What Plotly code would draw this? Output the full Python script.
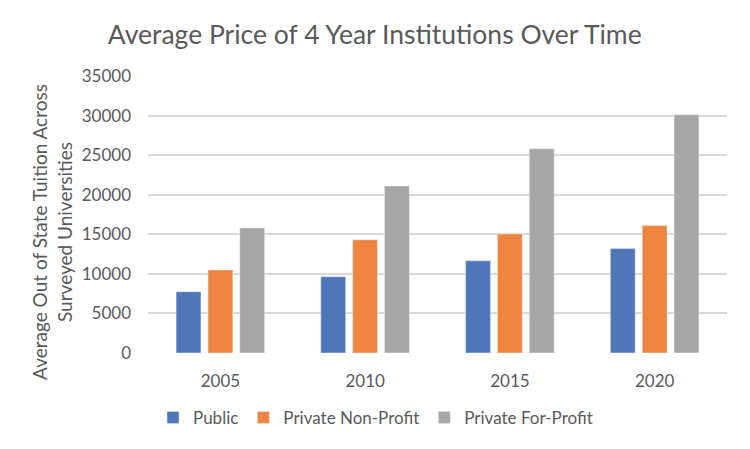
import plotly.graph_objects as go

years = ["2005", "2010", "2015", "2020"]
public = [7750, 9650, 11650, 13200]
private_nonprofit = [10500, 14300, 15050, 16100]
private_forprofit = [15800, 21100, 25800, 30100]
y_ticks = [0, 5000, 10000, 15000, 20000, 25000, 30000, 35000]
y_tick_labels = [str(v) for v in y_ticks]

font_family = "Lato, 'Open Sans', sans-serif"
text_color = "#595959"

fig = go.Figure()
fig.add_trace(go.Bar(name="Public", x=years, y=public, marker_color="#4f76b9"))
fig.add_trace(go.Bar(name="Private Non-Profit", x=years, y=private_nonprofit, marker_color="#ef8441"))
fig.add_trace(go.Bar(name="Private For-Profit", x=years, y=private_forprofit, marker_color="#a6a6a6"))

fig.update_layout(
    width=750, height=449,
    paper_bgcolor="white", plot_bgcolor="white",
    margin=dict(l=140, r=31, t=68, b=104, autoexpand=False),
    barmode="group", bargap=0.34, bargroupgap=0.22,
    font=dict(family=font_family, color=text_color, size=17),
    title=dict(text="Average Price of 4 Year Institutions Over Time",
               x=0.489, xanchor="center", xref="container",
               y=0.94, yanchor="middle", yref="container",
               font=dict(size=26.5, color=text_color, family=font_family)),
    showlegend=True,
    legend=dict(orientation="h", x=0.49, xanchor="center", xref="container",
                y=0.087, yanchor="middle", yref="container",
                font=dict(size=17, color=text_color),
                traceorder="normal"),
    xaxis=dict(showgrid=False, showline=False, ticks="", automargin=False,
               ticklabelstandoff=16,
               tickfont=dict(size=17, color=text_color)),
    yaxis=dict(range=[0, 35000], tickvals=y_ticks, ticktext=y_tick_labels,
               showgrid=True, gridcolor="#d9d9d9", automargin=False,
               gridwidth=2, zeroline=False, showline=False, ticks="",
               ticklabelstandoff=16,
               tickfont=dict(size=17, color=text_color)),
    annotations=[dict(text="Average Out of State Tuition Across<br>Surveyed Universities",
                      xref="paper", yref="paper", x=-0.121, y=0.437,
                      xanchor="right", yanchor="middle", textangle=-90,
                      showarrow=False,
                      font=dict(size=19, color=text_color))],
)

fig.write_html("out.html")
